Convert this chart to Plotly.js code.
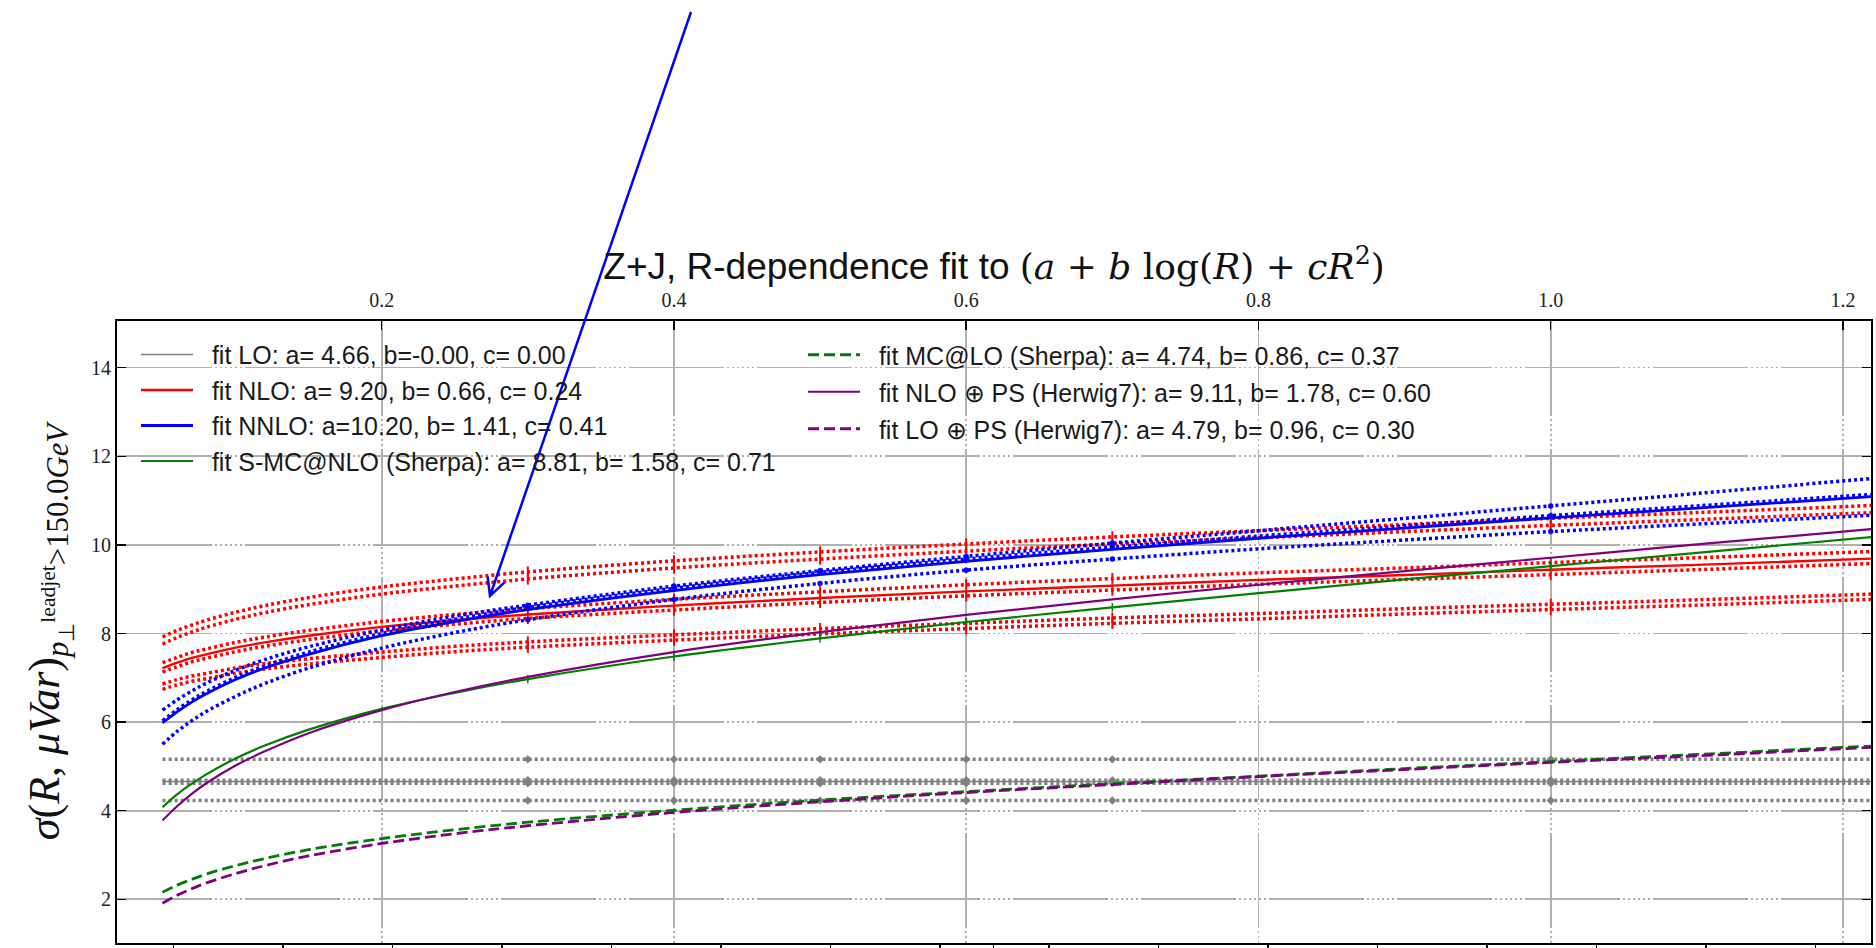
<!DOCTYPE html>
<html>
<head>
<meta charset="utf-8">
<script src="https://cdn.plot.ly/plotly-3.0.1.min.js"></script>
<style>
html,body{margin:0;padding:0;background:#fff;}
#chart{width:1876px;height:948px;}
</style>
</head>
<body>
<div id="chart"></div>
<script>
// ---------------- data ----------------
const R = [0.05, 0.06, 0.07, 0.08, 0.1, 0.12, 0.15, 0.2, 0.25, 0.3, 0.4, 0.5, 0.6, 0.7, 0.8, 0.9, 1.0, 1.1, 1.22];

// fitted curves
const fitNLO    = [7.22, 7.34, 7.45, 7.53, 7.68, 7.80, 7.95, 8.15, 8.30, 8.43, 8.63, 8.80, 8.95, 9.08, 9.21, 9.32, 9.44, 9.55, 9.69];
const fitNNLO   = [5.98, 6.23, 6.45, 6.64, 6.96, 7.22, 7.53, 7.95, 8.27, 8.54, 8.97, 9.33, 9.63, 9.90, 10.15, 10.38, 10.61, 10.83, 11.09];
const fitSMCNLO = [4.08, 4.37, 4.61, 4.82, 5.18, 5.47, 5.83, 6.30, 6.66, 6.97, 7.48, 7.89, 8.26, 8.59, 8.91, 9.22, 9.52, 9.82, 10.18];
const fitMCLO   = [2.16, 2.32, 2.45, 2.57, 2.76, 2.92, 3.12, 3.37, 3.57, 3.74, 4.01, 4.24, 4.43, 4.61, 4.78, 4.95, 5.11, 5.27, 5.46];
const fitNLOPS  = [3.78, 4.10, 4.38, 4.62, 5.02, 5.34, 5.75, 6.27, 6.68, 7.02, 7.58, 8.03, 8.42, 8.77, 9.10, 9.41, 9.71, 10.01, 10.36];
const fitLOPS   = [1.91, 2.09, 2.24, 2.37, 2.58, 2.76, 2.98, 3.26, 3.48, 3.66, 3.96, 4.20, 4.41, 4.59, 4.77, 4.93, 5.09, 5.24, 5.43];

// scale-variation curves (dotted)
const nloVarTop1 = [7.92, 8.07, 8.19, 8.30, 8.48, 8.63, 8.81, 9.05, 9.23, 9.39, 9.64, 9.84, 10.02, 10.18, 10.32, 10.46, 10.60, 10.73, 10.89];
const nloVarTop2 = [7.76, 7.91, 8.03, 8.14, 8.32, 8.47, 8.65, 8.89, 9.07, 9.23, 9.48, 9.68, 9.86, 10.02, 10.16, 10.30, 10.44, 10.57, 10.73];
const nloVarMid1 = [7.34, 7.46, 7.57, 7.65, 7.80, 7.92, 8.07, 8.27, 8.43, 8.56, 8.77, 8.94, 9.10, 9.24, 9.37, 9.48, 9.60, 9.71, 9.85];
const nloVarMid2 = [7.13, 7.25, 7.36, 7.44, 7.59, 7.71, 7.86, 8.06, 8.21, 8.34, 8.53, 8.70, 8.85, 8.98, 9.11, 9.22, 9.33, 9.44, 9.58];
const nloVarLow1 = [6.86, 6.96, 7.04, 7.10, 7.22, 7.32, 7.43, 7.58, 7.71, 7.81, 7.97, 8.11, 8.23, 8.35, 8.45, 8.56, 8.66, 8.76, 8.89];
const nloVarLow2 = [6.74, 6.84, 6.92, 6.98, 7.10, 7.20, 7.31, 7.46, 7.59, 7.69, 7.85, 7.99, 8.11, 8.23, 8.33, 8.44, 8.54, 8.64, 8.77];

const nnloVarUp  = [6.27, 6.50, 6.70, 6.88, 7.17, 7.41, 7.70, 8.08, 8.39, 8.64, 9.07, 9.42, 9.74, 10.04, 10.32, 10.60, 10.88, 11.16, 11.50];
const nnloVarMid = [6.03, 6.28, 6.50, 6.69, 7.01, 7.27, 7.58, 8.00, 8.32, 8.59, 9.02, 9.38, 9.68, 9.95, 10.20, 10.43, 10.66, 10.88, 11.14];
const nnloVarLow = [5.50, 5.79, 6.03, 6.24, 6.58, 6.87, 7.22, 7.67, 8.02, 8.31, 8.77, 9.13, 9.43, 9.68, 9.91, 10.11, 10.30, 10.47, 10.67];

// LO (flat) curves
const R_LO     = [0.05, 0.3, 0.4, 0.5, 0.6, 0.7, 1.0, 1.22];
const fitLO    = [4.66, 4.66, 4.66, 4.66, 4.66, 4.66, 4.66, 4.66];
const loVarA   = [5.16, 5.16, 5.16, 5.16, 5.16, 5.16, 5.16, 5.16];
const loVarB   = [4.69, 4.69, 4.69, 4.69, 4.69, 4.69, 4.69, 4.69];
const loVarC   = [4.62, 4.62, 4.62, 4.62, 4.62, 4.62, 4.62, 4.62];
const loVarD   = [4.23, 4.23, 4.23, 4.23, 4.23, 4.23, 4.23, 4.23];

// R values of the computed points
const dataR = [0.3, 0.4, 0.5, 0.6, 0.7, 1.0];

// axis ticks
const topTickVals = [0.2, 0.4, 0.6, 0.8, 1.0, 1.2];
const topTickText = ['0.2', '0.4', '0.6', '0.8', '1.0', '1.2'];
const yTickVals   = [2, 4, 6, 8, 10, 12, 14];
const yTickText   = ['2', '4', '6', '8', '10', '12', '14'];
const bottomTicks = [0.0576, 0.1325, 0.2074, 0.2823, 0.3572, 0.4321, 0.5070, 0.5819, 0.6188, 0.6568, 0.7317, 0.8066, 0.8815, 0.9564, 1.0313, 1.1062, 1.1811];

const legendNames = [
  'fit LO: a= 4.66, b=-0.00, c= 0.00',
  'fit NLO: a= 9.20, b= 0.66, c= 0.24',
  'fit NNLO: a=10.20, b= 1.41, c= 0.41',
  'fit S-MC@NLO (Sherpa): a= 8.81, b= 1.58, c= 0.71',
  'fit MC@LO (Sherpa): a= 4.74, b= 0.86, c= 0.37',
  'fit NLO \u2295 PS (Herwig7): a= 9.11, b= 1.78, c= 0.60',
  'fit LO \u2295 PS (Herwig7): a= 4.79, b= 0.96, c= 0.30'
];

// ---------------- styling ----------------
const GRAY = '#808080', RED = '#ff0000', BLUE = '#0000ff', GREEN = '#008000', PURPLE = '#800080';
const PAD = '\u00a0\u00a0';
const DOT = '3px,3px';
const DASH = '11px,5px';

const traces = [];

function curve(x, y, color, width, dash, opts) {
  const t = Object.assign({
    type: 'scatter', mode: 'lines', x: x, y: y,
    line: {color: color, width: width, dash: dash, shape: 'spline', smoothing: 1},
    hoverinfo: 'skip', showlegend: false
  }, opts || {});
  traces.push(t);
  return t;
}
function points(x, y, color, symbol, size, lw) {
  const xs = [], ys = [];
  dataR.forEach(r => { const i = x.indexOf(r); if (i >= 0) { xs.push(x[i]); ys.push(y[i]); } });
  traces.push({
    type: 'scatter', mode: 'markers', x: xs, y: ys,
    marker: {color: color, symbol: symbol, size: size, line: {color: color, width: lw}},
    hoverinfo: 'skip', showlegend: false
  });
}

// LO
[loVarA, loVarB, loVarC, loVarD].forEach(v => { curve(R_LO, v, GRAY, 3.5, DOT); points(R_LO, v, GRAY, 'diamond', 6, 0.5); });
curve(R_LO, fitLO, GRAY, 1.5, 'solid', {showlegend: true, name: PAD + legendNames[0], legend: 'legend'});

// NLO
[nloVarTop1, nloVarTop2, nloVarMid1, nloVarMid2, nloVarLow1, nloVarLow2].forEach(v => { curve(R, v, RED, 3.5, DOT); points(R, v, RED, 'line-ns', 8, 2); });
curve(R, fitNLO, RED, 2.4, 'solid', {showlegend: true, name: PAD + legendNames[1], legend: 'legend'});

// NNLO
[nnloVarUp, nnloVarMid, nnloVarLow].forEach(v => { curve(R, v, BLUE, 3.5, DOT); points(R, v, BLUE, 'circle', 5, 0.5); });
curve(R, fitNNLO, BLUE, 2.8, 'solid', {showlegend: true, name: PAD + legendNames[2], legend: 'legend'});

// Sherpa / Herwig
curve(R, fitSMCNLO, GREEN, 2.2, 'solid', {showlegend: true, name: PAD + legendNames[3], legend: 'legend'});
points(R, fitSMCNLO, GREEN, 'line-ns', 6, 1.5);
curve(R, fitMCLO, GREEN, 2.8, DASH, {showlegend: true, name: PAD + legendNames[4], legend: 'legend2', legendgroup: 'g5'});
curve(R, fitNLOPS, PURPLE, 2.2, 'solid', {showlegend: true, name: PAD + legendNames[5], legend: 'legend2', legendgroup: 'g6'});
curve(R, fitLOPS, PURPLE, 2.8, DASH, {showlegend: true, name: PAD + legendNames[6], legend: 'legend2', legendgroup: 'g7'});

// empty trace to activate the bottom axis
traces.push({type: 'scatter', mode: 'lines', x: [], y: [], xaxis: 'x2', yaxis: 'y', showlegend: false, hoverinfo: 'skip'});

// ---------------- layout ----------------
const W = 1876, H = 948;
const PL = 117, PR = 1871, PT = 321, PB = 943;
const XR = [0.01886, 1.21916];
const YR = [1.0135, 15.054];
const GRID_DASH = '95px,3px,2px,3px,2px,3px,2px,3px,2px,3px,2px,3px,2px,3px';

function px(x) { return (x - PL) / (PR - PL); }
function py(y) { return (PB - y) / (PB - PT); }
// annotation arrow (pixel positions of tail, tip and the two head strokes)
const tail = [691, 12], tip = [490, 596], arm1 = [487.6, 576.5], arm2 = [504.5, 582.3];
const arrowPath = 'M' + px(tail[0]) + ',' + py(tail[1]) + ' L' + px(tip[0]) + ',' + py(tip[1]) +
  ' M' + px(arm1[0]) + ',' + py(arm1[1]) + ' L' + px(tip[0]) + ',' + py(tip[1]) + ' L' + px(arm2[0]) + ',' + py(arm2[1]);

const SANS = 'Liberation Sans, Arial, sans-serif';
const SERIF = 'Liberation Serif, Times New Roman, serif';
const tickFont = {family: SERIF, size: 20, color: '#222'};

const titleText = 'Z+J, R-dependence fit to <span style="font-family:\'DejaVu Serif\';font-size:36px">(<i>a</i> + <i>b</i> log(<i>R</i>) + <i>cR</i><sup>2</sup>)</span>';
const yTitleText = '<i>σ</i>(<i>R</i>, <i>μVar</i>)<sub><i>p</i><sub>⊥</sub><sup>leadjet</sup>&gt;150.0<i>GeV</i></sub>';

const layout = {
  width: W, height: H,
  margin: {l: PL, r: W - PR, t: PT, b: H - PB, pad: 0},
  paper_bgcolor: '#ffffff', plot_bgcolor: '#ffffff',
  showlegend: true,
  title: {
    text: titleText, x: 0.5, xref: 'paper', xanchor: 'center',
    y: 1 - 266 / H, yref: 'container', yanchor: 'middle',
    font: {family: SANS, size: 37, color: '#111'}
  },
  xaxis: {
    range: XR, side: 'top', anchor: 'y',
    tickmode: 'array', tickvals: topTickVals, ticktext: topTickText,
    ticks: 'inside', ticklen: 9, tickwidth: 1.5, tickcolor: '#000',
    showline: true, linecolor: '#000', linewidth: 2, mirror: false,
    showgrid: true, gridcolor: '#b0b0b0', gridwidth: 1.6, griddash: GRID_DASH,
    zeroline: false, tickfont: tickFont, ticklabelstandoff: 4
  },
  xaxis2: {
    range: XR, overlaying: 'x', side: 'bottom', anchor: 'y',
    tickmode: 'array', tickvals: bottomTicks,
    ticks: 'outside', ticklen: 10, tickwidth: 1.5, tickcolor: '#000',
    showticklabels: false, showline: true, linecolor: '#000', linewidth: 2,
    showgrid: false, zeroline: false
  },
  yaxis: {
    range: YR,
    tickmode: 'array', tickvals: yTickVals, ticktext: yTickText,
    ticks: 'inside', ticklen: 9, tickwidth: 1.5, tickcolor: '#000',
    showline: true, linecolor: '#000', linewidth: 2, mirror: 'ticks',
    showgrid: true, gridcolor: '#b0b0b0', gridwidth: 1.6, griddash: GRID_DASH,
    zeroline: false, tickfont: tickFont,
    title: {text: yTitleText, font: {family: SERIF, size: 44, color: '#111'}, standoff: 18}
  },
  legend: {
    x: px(136), y: py(331.75), xanchor: 'left', yanchor: 'top',
    bgcolor: 'rgba(0,0,0,0)', borderwidth: 0, itemwidth: 52,
    font: {family: SANS, size: 25, color: '#1a1a1a'}, tracegroupgap: 0
  },
  legend2: {
    x: px(803), y: py(332), xanchor: 'left', yanchor: 'top',
    bgcolor: 'rgba(0,0,0,0)', borderwidth: 0, itemwidth: 52,
    font: {family: SANS, size: 25, color: '#1a1a1a'}, tracegroupgap: 1.5
  },
  shapes: [{
    type: 'path', xref: 'paper', yref: 'paper', path: arrowPath,
    line: {color: '#0000ff', width: 2.5}
  }]
};

Plotly.newPlot('chart', traces, layout, {staticPlot: true, displayModeBar: false});
</script>
</body>
</html>
